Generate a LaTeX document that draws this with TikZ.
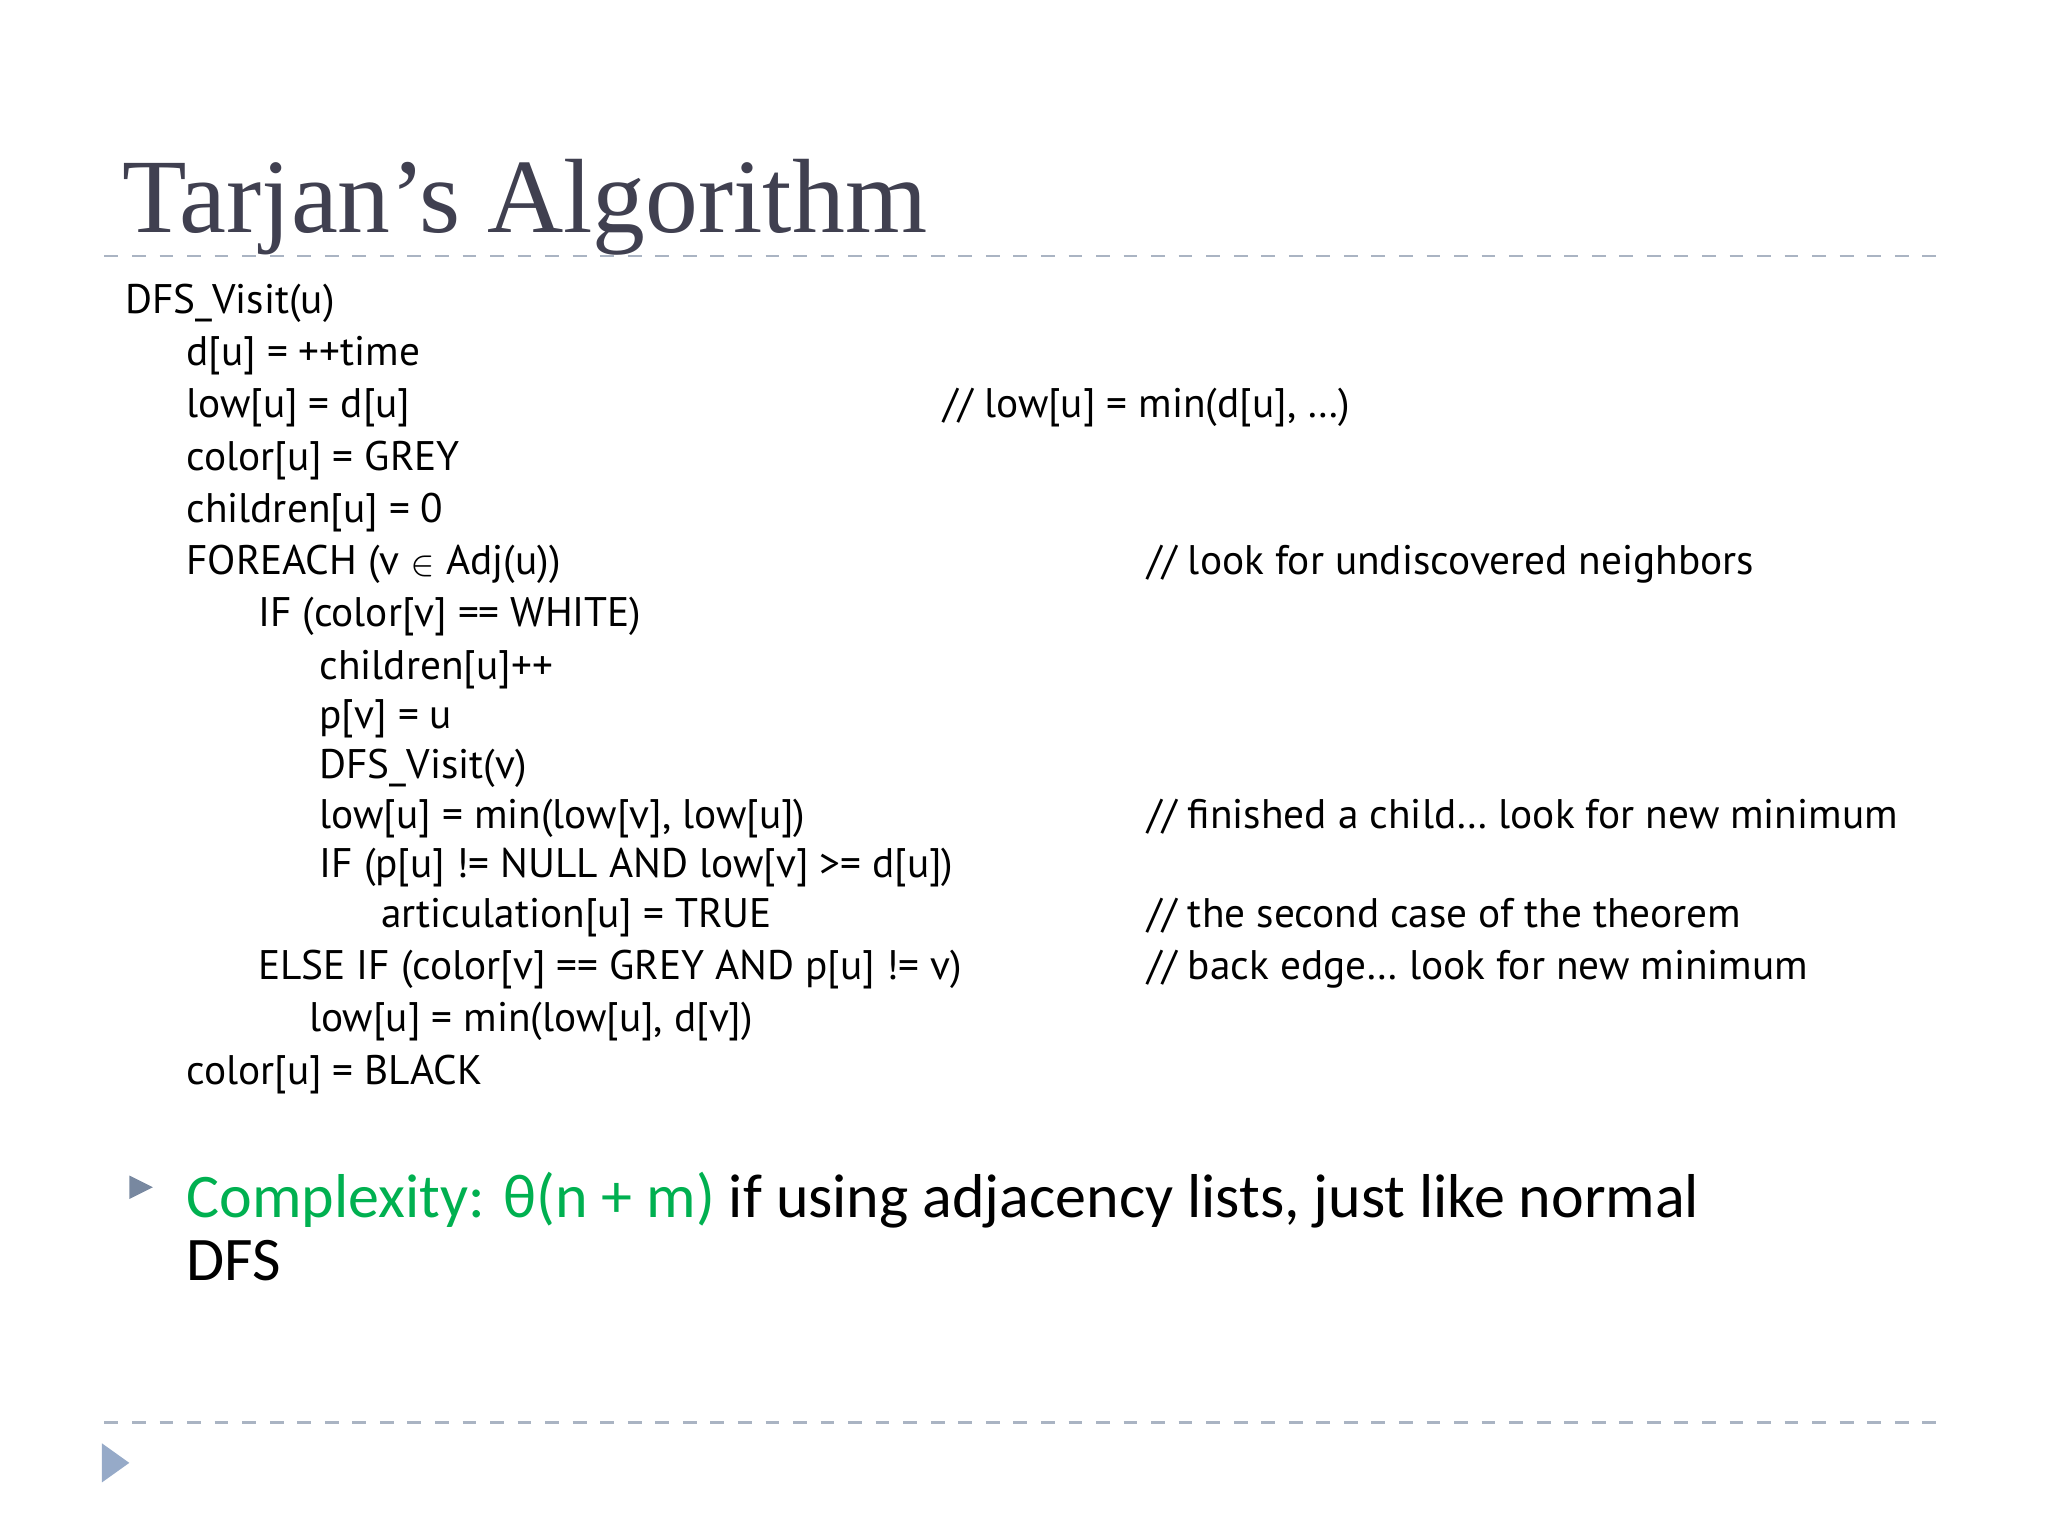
\documentclass[tikz,border=0pt]{standalone}
\usepackage{fontspec}
\setmainfont{PT Sans}
\newfontfamily\titlefont{Liberation Serif}
\newfontfamily\bodyfont{Carlito}
\usetikzlibrary{positioning}
\definecolor{titlegray}{RGB}{64,64,80}
\definecolor{rulegray}{RGB}{170,180,195}
\definecolor{bulletblue}{RGB}{150,170,200}
\definecolor{complgreen}{RGB}{0,176,80}

\begin{document}
\begin{tikzpicture}[
    code/.style={anchor=base west, inner sep=0pt, font=\fontsize{9}{11}\selectfont},
    rulerline/.style={rulegray, dashed, line width=0.5pt}]
    \useasboundingbox (0,0) rectangle (15.68,-11.76);
    % Title and rules
    \node[anchor=base west, inner sep=0pt, text=titlegray, font=\titlefont\fontsize{23}{26}\selectfont] (title) at (0.93,-1.78) {Tarjan’s Algorithm};
    \draw[rulerline] (0.8,-1.96) -- (14.9,-1.96);
    \draw[rulerline] (0.8,-10.89) -- (14.9,-10.89);
    % Pseudocode
    \node[code] (l1) at (0.95,-2.40) {DFS\_Visit(u)};
    \node[code] (l2) at (1.42,-2.80) {d[u] = ++time};
    \node[code] (l3) at (1.42,-3.20) {low[u] = d[u]};
    \node[code] (l4) at (1.42,-3.60) {color[u] = GREY};
    \node[code] (l5) at (1.42,-4.00) {children[u] = 0};
    \node[code] (l6) at (1.42,-4.40) {FOREACH (v {\scriptsize$\in$} Adj(u))};
    \node[code] (l7) at (1.97,-4.80) {IF (color[v] == WHITE)};
    \node[code] (l8) at (2.44,-5.20) {children[u]++};
    \node[code] (l9) at (2.44,-5.58) {p[v] = u};
    \node[code] (l10) at (2.44,-5.96) {DFS\_Visit(v)};
    \node[code] (l11) at (2.44,-6.34) {low[u] = min(low[v], low[u])};
    \node[code] (l12) at (2.44,-6.72) {IF (p[u] != NULL AND low[v] >= d[u])};
    \node[code] (l13) at (2.91,-7.10) {articulation[u] = TRUE};
    \node[code] (l14) at (1.97,-7.50) {ELSE IF (color[v] == GREY AND p[u] != v)};
    \node[code] (l15) at (2.36,-7.90) {low[u] = min(low[u], d[v])};
    \node[code] (l16) at (1.42,-8.30) {color[u] = BLACK};
    % Comments
    \node[code] (c1) at (7.22,-3.20) {// low[u] = min(d[u], …)};
    \node[code] (c2) at (8.78,-4.40) {// look for undiscovered neighbors};
    \node[code] (c3) at (8.78,-6.34) {// finished a child… look for new minimum};
    \node[code] (c4) at (8.78,-7.10) {// the second case of the theorem};
    \node[code] (c5) at (8.78,-7.50) {// back edge… look for new minimum};
    % Complexity bullet
    \fill[bulletblue!80!black] (0.99,-9.00) -- (1.17,-9.09) -- (0.99,-9.18) -- cycle;
    \node[anchor=base west, inner sep=0pt, font=\bodyfont\fontsize{13.5}{16}\selectfont] (cx) at (1.42,-9.32)
        {\textcolor{complgreen}{Complexity: θ(n + m)} if using adjacency lists, just like normal};
    \node[anchor=base west, inner sep=0pt, font=\bodyfont\fontsize{13.5}{16}\selectfont] (cx2) at (1.42,-9.80) {DFS};
    % Footer arrow
    \fill[bulletblue] (0.78,-11.05) -- (0.99,-11.20) -- (0.78,-11.35) -- cycle;
\end{tikzpicture}
\end{document}
